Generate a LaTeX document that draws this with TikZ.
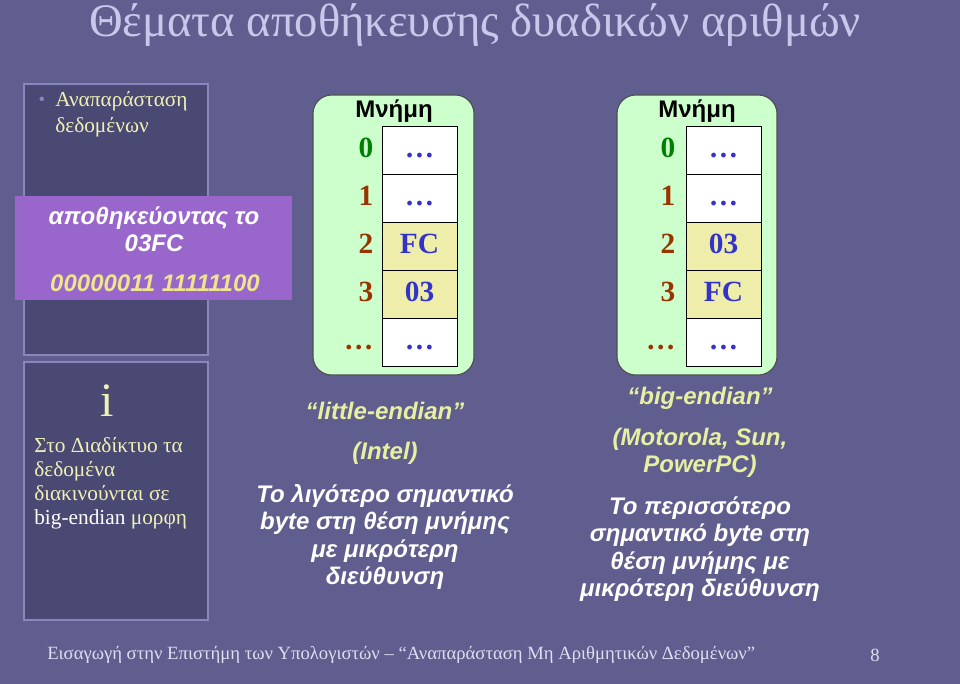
\documentclass[tikz,border=0pt]{standalone}
\usepackage{fontspec}
\setmainfont{Liberation Serif}
\setsansfont{Liberation Sans}
\usetikzlibrary{positioning}

\definecolor{slidebg}{RGB}{95,94,142}
\definecolor{panelfill}{RGB}{74,73,116}
\definecolor{panelline}{RGB}{135,135,190}
\definecolor{boxpurple}{RGB}{153,102,204}
\definecolor{titlecol}{RGB}{200,200,236}
\definecolor{paneltext}{RGB}{240,240,180}
\definecolor{binyellow}{RGB}{240,228,140}
\definecolor{capyellow}{RGB}{230,240,160}
\definecolor{memgreen}{RGB}{204,255,204}
\definecolor{cellyellow}{RGB}{238,238,170}
\definecolor{valblue}{RGB}{51,51,204}
\definecolor{addrgreen}{RGB}{0,128,0}
\definecolor{addrbrown}{RGB}{153,51,0}
\definecolor{footcol}{RGB}{222,222,242}

\tikzset{
  panel/.style={fill=panelfill,draw=panelline,line width=1.2pt},
  membox/.style={fill=memgreen,draw=black!70,line width=0.8pt,rounded corners=14pt},
  cell/.style={draw=black,line width=0.6pt,minimum width=56.25pt,minimum height=36pt,
    inner sep=0pt,text=valblue,font=\fontsize{22}{22}\selectfont\bfseries,
    text height=15pt,text depth=4pt},
  addr/.style={font=\fontsize{22}{22}\selectfont\bfseries,inner sep=0pt,
    text height=15pt,text depth=4pt},
  caption/.style={font=\sffamily\bfseries\itshape\fontsize{18}{20.5}\selectfont,align=center},
}

\begin{document}
\begin{tikzpicture}[x=0.75pt,y=-0.75pt]
  \fill[slidebg] (0,0) rectangle (960,684);
  \useasboundingbox (0,0) rectangle (960,684);

  % title
  \node[text=titlecol,font=\fontsize{35}{40}\selectfont] (title) at (475,25)
    {Θέματα αποθήκευσης δυαδικών αριθμών};

  % left panels
  \draw[panel] (24,84) rectangle (208,355);
  \draw[panel] (24,362) rectangle (208,620);
  \node[text=panelline,font=\fontsize{14}{14}\selectfont] (bullet) at (42,101) {•};
  \node[anchor=west,align=left,inner sep=0pt,text=paneltext,font=\fontsize{16}{19.5}\selectfont]
    (topic) at (55,114) {Αναπαράσταση\\δεδομένων};
  \fill[boxpurple] (15,196) rectangle (292,300);
  \node[caption,text=white] (store) at (154,229) {αποθηκεύοντας το\\03FC};
  \node[caption,text=binyellow] (bits) at (155,283) {00000011 11111100};
  \node[text=paneltext,font=\fontsize{36}{36}\selectfont] (info) at (107,401) {i};
  \node[anchor=west,align=left,inner sep=0pt,text=paneltext,font=\fontsize{16}{18}\selectfont]
    (net) at (34,483) {Στο Διαδίκτυο τα\\δεδομένα\\διακινούνται σε\\{\color{white}big-endian} μορφη};

  % little-endian memory
  \draw[membox] (313,95) rectangle (474,375);
  \node[font=\sffamily\bfseries\fontsize{18}{18}\selectfont] (memL) at (394,111) {Μνήμη};
  \foreach \v/\f/\a/\c [count=\i] in {…/white/0/addrgreen, …/white/1/addrbrown,
      FC/cellyellow/2/addrbrown, 03/cellyellow/3/addrbrown, …/white/…/addrbrown}
  {
    \node[cell,fill=\f] (cL\i) at (419.5,{102+48*\i}) {\v};
    \node[addr,text=\c,left=6pt of cL\i] (aL\i) {\a};
  }

  % big-endian memory
  \draw[membox] (617,95) rectangle (777,375);
  \node[font=\sffamily\bfseries\fontsize{18}{18}\selectfont] (memB) at (697,111) {Μνήμη};
  \foreach \v/\f/\a/\c [count=\i] in {…/white/0/addrgreen, …/white/1/addrbrown,
      03/cellyellow/2/addrbrown, FC/cellyellow/3/addrbrown, …/white/…/addrbrown}
  {
    \node[cell,fill=\f] (cB\i) at (723.5,{102+48*\i}) {\v};
    \node[addr,text=\c,left=7.5pt of cB\i] (aB\i) {\a};
  }

  % captions
  \node[caption,text=capyellow] (little) at (385,411) {“little-endian”};
  \node[caption,text=capyellow] (intel) at (385,453) {(Intel)};
  \node[caption,text=white] (lsb) at (385,537)
    {Το λιγότερο σημαντικό\\byte στη θέση μνήμης\\με μικρότερη\\διεύθυνση};
  \node[caption,text=capyellow] (big) at (700,398) {“big-endian”};
  \node[caption,text=capyellow] (moto) at (700,453) {(Motorola, Sun,\\PowerPC)};
  \node[caption,text=white] (msb) at (700,549)
    {Το περισσότερο\\σημαντικό byte στη\\θέση μνήμης με\\μικρότερη διεύθυνση};

  % footer
  \node[anchor=west,inner sep=0pt,text=footcol,font=\fontsize{14}{14}\selectfont] (foot) at (47,655)
    {Εισαγωγή στην Επιστήμη των Υπολογιστών – “Αναπαράσταση Μη Αριθμητικών Δεδομένων”};
  \node[text=footcol,font=\fontsize{14}{14}\selectfont] (page) at (875,655) {8};
\end{tikzpicture}
\end{document}
